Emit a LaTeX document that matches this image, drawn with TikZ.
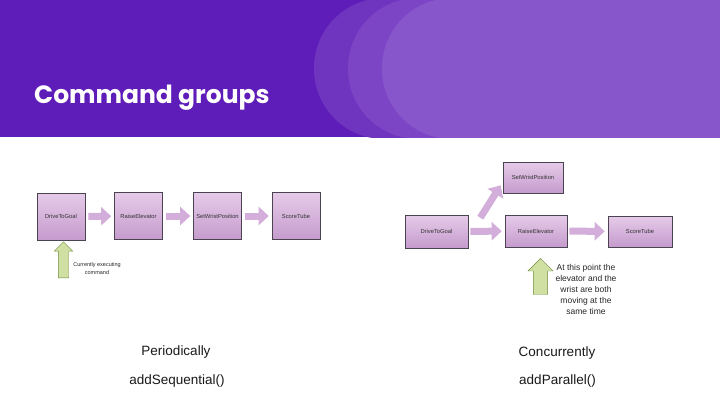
\documentclass[tikz,border=0pt]{standalone}
\usepackage{fontspec}
\setmainfont{Liberation Sans}
\newfontfamily\titlefont{Poppins}
\usetikzlibrary{arrows.meta,shapes.arrows,positioning,calc}
\definecolor{bandc}{HTML}{5E1CB8}
\definecolor{circa}{HTML}{7035BF}
\definecolor{circb}{HTML}{7C45C6}
\definecolor{circc}{HTML}{8856CB}
\definecolor{boxlt}{HTML}{E6CBE9}
\definecolor{boxdk}{HTML}{C59BCD}
\definecolor{boxline}{HTML}{4A4450}
\definecolor{arrowc}{HTML}{D3AEDA}
\definecolor{greenf}{HTML}{CFE0A2}
\definecolor{greenl}{HTML}{6F8C3C}
\tikzset{
  cbox/.style={draw=boxline,semithick,top color=boxlt,bottom color=boxdk,
    minimum width=48pt,minimum height=47pt,inner sep=0pt,
    font=\fontsize{5.8}{7}\selectfont,text=black!80},        % command box
  pbox/.style={cbox,minimum width=62pt,minimum height=32pt},
  barrow/.style={-{Triangle[length=10pt,width=18pt]},line width=7pt,arrowc},
  garrow/.style={single arrow,draw=greenl,fill=greenf,rotate=90,
    minimum height=36pt,single arrow head extend=4pt,inner sep=0pt},
  note/.style={align=center,text=black!85},
  capt/.style={font=\fontsize{13.5}{16}\selectfont,text=black!90},
}

\begin{document}
\begin{tikzpicture}[x=1pt,y=-1pt]
  \useasboundingbox (0,0) rectangle (720,405);
  \fill[white] (0,0) rectangle (720,405);
  % header band
  \begin{scope}
    \clip (0,0) rectangle (720,137);
    \fill[bandc] (0,0) rectangle (720,137);
    \fill[circa,rounded corners=70pt] (314,-2) rectangle (800,139);
    \fill[circb,rounded corners=70pt] (348,-2) rectangle (800,139);
    \fill[circc,rounded corners=70pt] (382,-2) rectangle (800,139);
  \end{scope}
  \node[anchor=base west,text=white,inner sep=0pt,
    font=\titlefont\bfseries\fontsize{25}{29}\selectfont] (title) at (34,103) {Command groups};

  % sequential
  \node[cbox] (d1) at (61,216.5) {DriveToGoal};
  \node[cbox] (r1) at (138.5,216) {RaiseElevator};
  \node[cbox] (w1) at (217.5,216) {SetWristPosition};
  \node[cbox] (s1) at (296,216) {ScoreTube};
  \draw[barrow,shorten <=3pt,shorten >=3pt] (d1) -- (r1);
  \draw[barrow,shorten <=3pt,shorten >=3pt] (r1) -- (w1);
  \draw[barrow,shorten <=3pt,shorten >=3pt] (w1) -- (s1);
  \node[garrow,minimum width=17pt,inner ysep=5pt] (g1) at (63.5,262.5) {};
  \node[note,font=\fontsize{5.5}{8}\selectfont] (n1) at (97,268.5) {Currently executing\\command};

  % parallel
  \node[pbox,minimum width=60pt,minimum height=31pt] (w2) at (533,177.5) {SetWristPosition};
  \node[pbox,minimum width=63pt,minimum height=33pt] (d2) at (436.5,231.5) {DriveToGoal};
  \node[pbox] (r2) at (536,231) {RaiseElevator};
  \node[pbox,minimum width=64pt,minimum height=31pt] (s2) at (640,231.5) {ScoreTube};
  \draw[barrow,shorten <=2pt,shorten >=3pt] (d2) -- (r2);
  \draw[barrow,shorten <=2pt,shorten >=3pt] (r2) -- (s2);
  \draw[barrow] ($(d2.north east)+(12,3)$) -- ($(w2.south west)+(-2,-8)$);
  \node[garrow,minimum width=25pt,inner ysep=5pt] (g2) at (540.5,280) {};
  \node[note,font=\fontsize{8.5}{11}\selectfont] (n2) at (586,289.5)
    {At this point the\\elevator and the\\wrist are both\\moving at the\\same time};

  % captions
  \node[capt] (p1) at (176,352) {Periodically};
  \node[capt] (q1) at (177,381) {addSequential()};
  \node[capt] (p2) at (557,353) {Concurrently};
  \node[capt] (q2) at (557.5,381) {addParallel()};
\end{tikzpicture}
\end{document}
